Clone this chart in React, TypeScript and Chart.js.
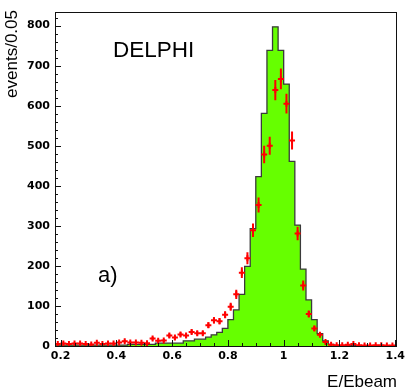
import React, { useEffect, useRef } from 'react';
import { Chart, registerables } from 'chart.js';

Chart.register(...registerables);

// Histogram (simulation) bin edges and counts
const histEdges = [
  0.18, 0.2, 0.22, 0.24, 0.26, 0.28, 0.3, 0.32, 0.34, 0.36, 0.38, 0.4, 0.42, 0.44, 0.46, 0.48,
  0.5, 0.52, 0.54, 0.56, 0.58, 0.6, 0.62, 0.64, 0.66, 0.68, 0.7, 0.72, 0.74, 0.76, 0.78, 0.8,
  0.82, 0.84, 0.86, 0.88, 0.9, 0.92, 0.94, 0.96, 0.98, 1.0, 1.02, 1.04, 1.06, 1.08, 1.1, 1.12,
  1.14, 1.16, 1.18, 1.2, 1.22, 1.24, 1.26, 1.28, 1.3, 1.32, 1.34, 1.36, 1.38, 1.4,
];
const histCounts = [
  2, 2, 2, 2, 2, 2, 2, 2, 2, 2, 2, 2, 2,
  4, 4, 4, 4, 4,
  7, 7, 7, 7, 7,
  13, 13, 17, 17,
  22, 28, 34, 44, 66, 90, 129, 199, 293, 423, 581, 738, 797, 738, 654, 461, 302, 192, 115, 66, 31, 13, 4,
  1, 1, 1, 1, 1, 1, 1, 1, 1, 1, 1,
];

// Data points (bin centres), values and errors
const dataX = [
  0.19, 0.21, 0.23, 0.25, 0.27, 0.29, 0.31, 0.33, 0.35, 0.37, 0.39, 0.41, 0.43, 0.45, 0.47, 0.49,
  0.51, 0.53, 0.55, 0.57, 0.59, 0.61, 0.63, 0.65, 0.67, 0.69, 0.71, 0.73, 0.75, 0.77, 0.79, 0.81,
  0.83, 0.85, 0.87, 0.89, 0.91, 0.93, 0.95, 0.97, 0.99, 1.01, 1.03, 1.05, 1.07, 1.09, 1.11, 1.13,
  1.15, 1.17, 1.19, 1.21, 1.23, 1.25, 1.27, 1.29, 1.31, 1.33, 1.35, 1.37, 1.39,
];
const dataY = [
  5, 6, 5, 6, 6, 5, 4, 8, 5, 6, 6, 9, 12, 9, 9, 8, 7,
  19, 13, 14, 26, 21, 29, 26, 35, 32, 32, 52, 64, 62, 78,
  98, 129, 183, 219, 289, 352, 478, 500, 639, 667, 605, 513, 281, 151, 80, 44, 28, 10,
  3, 2, 2, 3, 5, 2, 1, 1, 2, 2, 1, 1,
];
const dataErr = [
  2.2, 2.4, 2.2, 2.4, 2.4, 2.2, 2, 2.8, 2.2, 2.4, 2.4, 3, 3.5, 3, 3, 2.8, 2.6,
  4.4, 3.6, 3.7, 5.1, 4.6, 5.4, 5.1, 5.9, 5.7, 5.7, 7.2, 8, 7.9, 8.8,
  9.9, 11.4, 13.5, 14.8, 17, 18.8, 21.9, 22.4, 25.3, 25.8, 24.6, 22.6, 16.8, 12.3, 8.9, 6.6, 5.3, 3.2,
  1.7, 1.4, 1.4, 1.7, 2.2, 1.4, 1, 1, 1.4, 1.4, 1, 1,
];

const xTickValues = [0.2, 0.4, 0.6, 0.8, 1.0, 1.2, 1.4];
const xTickLabels = ['0.2', '0.4', '0.6', '0.8', '1', '1.2', '1.4'];
const yTickValues = [0, 100, 200, 300, 400, 500, 600, 700, 800];
const yTickLabels = ['0', '100', '200', '300', '400', '500', '600', '700', '800'];

const xTitle = 'E/Ebeam';
const yTitle = 'events/0.05';
const expLabel = 'DELPHI';
const panelLabel = 'a)';

const decorPlugin = {
  id: 'decor',
  afterDatasetsDraw(chart: any) {
    const { ctx, scales } = chart;
    const x = scales.x;
    const y = scales.y;
    ctx.save();
    ctx.beginPath();
    ctx.rect(chart.chartArea.left, chart.chartArea.top, chart.chartArea.right - chart.chartArea.left, chart.chartArea.bottom - chart.chartArea.top + 2);
    ctx.clip();
    ctx.strokeStyle = '#ff0000';
    ctx.lineWidth = 2;
    dataX.forEach((xv, i) => {
      const px = x.getPixelForValue(xv);
      const top = y.getPixelForValue(dataY[i] + dataErr[i]);
      const bot = y.getPixelForValue(Math.max(0, dataY[i] - dataErr[i]));
      ctx.beginPath();
      ctx.moveTo(px, top);
      ctx.lineTo(px, bot);
      ctx.stroke();
    });
    ctx.restore();
  },
  afterDraw(chart: any) {
    const { ctx, chartArea: a, scales } = chart;
    const x = scales.x;
    const y = scales.y;
    ctx.save();
    // frame
    ctx.strokeStyle = '#111';
    ctx.lineWidth = 1;
    ctx.strokeRect(Math.round(a.left) + 0.5, Math.round(a.top) + 0.5, Math.round(a.right - a.left) - 1, Math.round(a.bottom - a.top));
    // y ticks (inward)
    ctx.beginPath();
    for (let v = 0; v <= y.max; v += 20) {
      const py = Math.round(y.getPixelForValue(v)) + 0.5;
      const len = v % 100 === 0 ? 6 : 3;
      ctx.moveTo(a.left, py);
      ctx.lineTo(a.left + len, py);
    }
    // x ticks (inward)
    for (let k = 0; k <= 24; k++) {
      const v = 0.2 + k * 0.05;
      if (v > x.max) break;
      const px = Math.round(x.getPixelForValue(v)) + 0.5;
      const len = k % 4 === 0 ? 6 : 3;
      ctx.moveTo(px, a.bottom);
      ctx.lineTo(px, a.bottom - len);
    }
    ctx.stroke();

    // texts
    ctx.fillStyle = '#000';
    ctx.font = '22.5px "Liberation Sans", Arial, sans-serif';
    ctx.textAlign = 'left';
    ctx.textBaseline = 'alphabetic';
    ctx.fillText(expLabel, 113, 57);
    ctx.font = '22px "Liberation Sans", Arial, sans-serif';
    ctx.fillText(panelLabel, 98, 282);

    ctx.font = '17px "Liberation Sans", Arial, sans-serif';
    ctx.textAlign = 'right';
    ctx.fillText(xTitle, 397, 387);

    ctx.translate(17, 10);
    ctx.rotate(-Math.PI / 2);
    ctx.textAlign = 'right';
    ctx.fillText(yTitle, 0, 0);
    ctx.restore();
  },
};

export default function App() {
  const ref = useRef<HTMLCanvasElement | null>(null);

  useEffect(() => {
    if (!ref.current) return;
    const histPoints: { x: number; y: number }[] = [{ x: histEdges[0], y: 0 }];
    histCounts.forEach((c, i) => histPoints.push({ x: histEdges[i], y: c }));
    histPoints.push({ x: histEdges[histEdges.length - 1], y: histCounts[histCounts.length - 1] });
    histPoints.push({ x: histEdges[histEdges.length - 1], y: 0 });

    const points = dataX.map((xv, i) => ({ x: xv, y: dataY[i] }));

    const tickFont = { family: '"DejaVu Sans", sans-serif', size: 11, weight: 'bold' as const };

    const chart = new Chart(ref.current, {
      type: 'scatter',
      data: {
        datasets: [
          {
            type: 'scatter',
            label: 'data',
            data: points,
            order: 0,
            pointStyle: 'cross',
            pointRadius: 3,
            pointBorderWidth: 2,
            borderColor: '#ff0000',
            backgroundColor: '#ff0000',
            showLine: false,
          } as any,
          {
            type: 'line',
            label: 'simulation',
            data: histPoints,
            order: 1,
            stepped: 'before',
            fill: 'origin',
            backgroundColor: '#66ff00',
            borderColor: '#3a3a3a',
            borderWidth: 1.3,
            pointRadius: 0,
            tension: 0,
          } as any,
        ],
      },
      options: {
        animation: false,
        responsive: false,
        devicePixelRatio: 1,
        layout: { padding: { top: 1, right: 7, left: 0, bottom: 0 } },
        plugins: {
          legend: { display: false },
          tooltip: { enabled: false },
          title: { display: false },
        },
        scales: {
          x: {
            type: 'linear',
            min: 0.18,
            max: 1.405,
            grid: { display: false, drawTicks: false },
            border: { display: false },
            afterFit: (s: any) => {
              s.height = 46;
            },
            afterBuildTicks: (s: any) => {
              s.ticks = xTickValues.map((v) => ({ value: v }));
            },
            ticks: {
              autoSkip: false,
              maxRotation: 0,
              padding: 4,
              color: '#000',
              font: tickFont,
              callback: (_v: any, i: number) => xTickLabels[i],
            },
          },
          y: {
            type: 'linear',
            min: 0,
            max: 835,
            grid: { display: false, drawTicks: false },
            border: { display: false },
            afterFit: (s: any) => {
              s.width = 55;
            },
            afterBuildTicks: (s: any) => {
              s.ticks = yTickValues.map((v) => ({ value: v }));
            },
            ticks: {
              autoSkip: false,
              padding: 5,
              color: '#000',
              font: tickFont,
              callback: (_v: any, i: number) => yTickLabels[i],
            },
          },
        },
      },
      plugins: [decorPlugin],
    });
    return () => chart.destroy();
  }, []);

  return (
    <div style={{ position: 'fixed', left: 0, top: 0, width: 409, height: 392, background: '#fff' }}>
      <canvas ref={ref} width={409} height={392} style={{ display: 'block' }} />
    </div>
  );
}
